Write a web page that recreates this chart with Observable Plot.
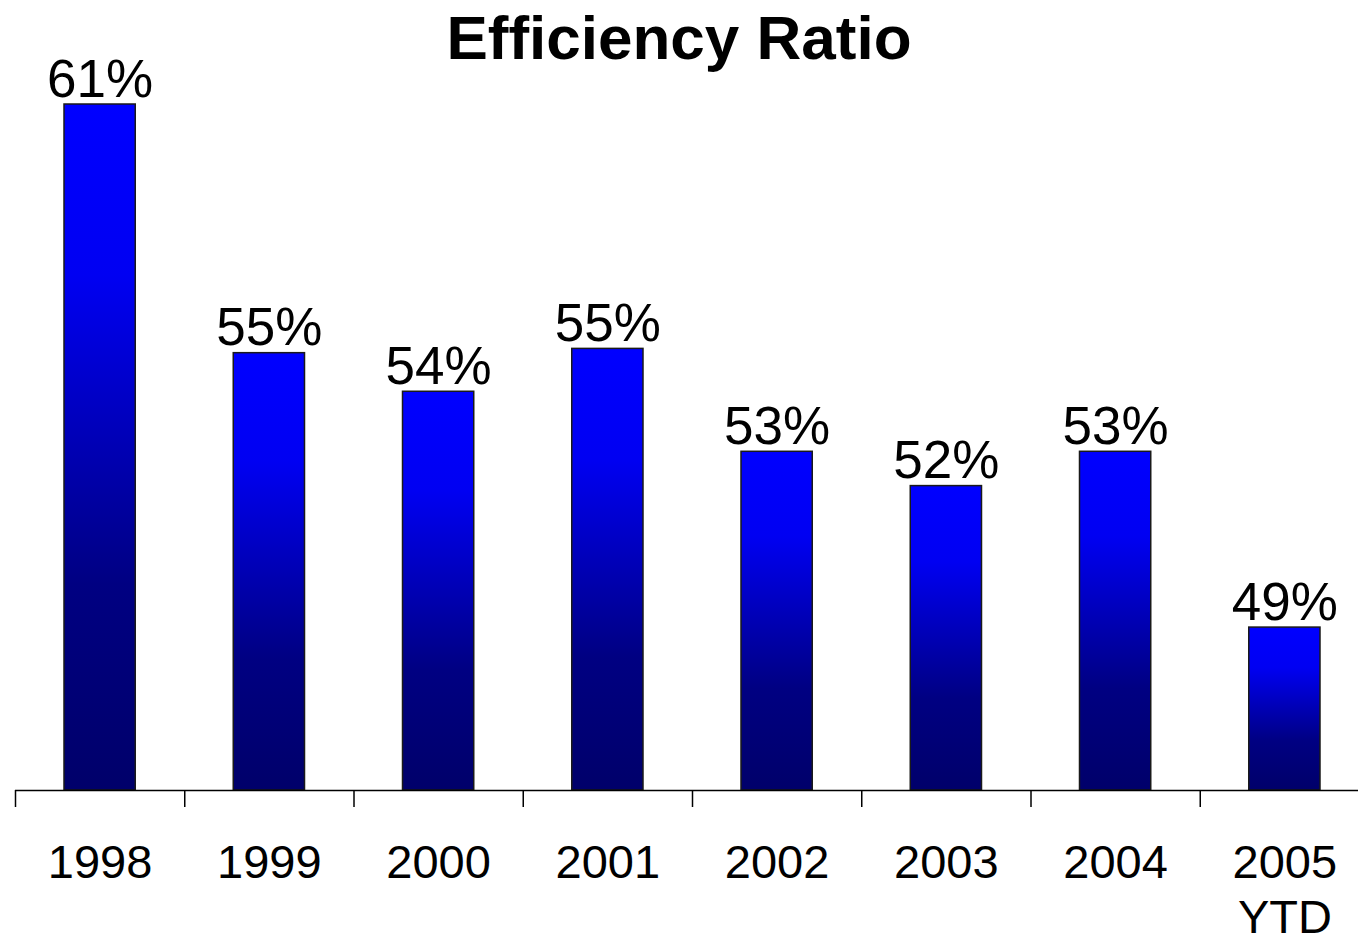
<!DOCTYPE html>
<html>
<head>
<meta charset="utf-8">
<script src="https://cdn.jsdelivr.net/npm/d3@7"></script>
<script src="https://cdn.jsdelivr.net/npm/@observablehq/plot@0.6"></script>
<style>
  html, body { margin: 0; padding: 0; background: #fff; overflow: hidden; }
  #wrap { position: relative; width: 1358px; height: 942px; }
  #title { position: absolute; top: 7px; left: 0; width: 1358px; text-align: center;
    font-family: "Liberation Sans", Arial, sans-serif; font-weight: bold; font-size: 62px; line-height: 62px; color: #000; }
</style>
</head>
<body>
<div id="wrap">
  <div id="title">Efficiency Ratio</div>
  <div id="chart"></div>
</div>
<script>
const categories = ["1998", "1999", "2000", "2001", "2002", "2003", "2004", "2005\nYTD"];
const values = [61.0, 55.2, 54.3, 55.3, 52.9, 52.1, 52.9, 48.8];
const valueLabels = ["61%", "55%", "54%", "55%", "53%", "52%", "53%", "49%"];

const data = categories.map((c, i) => ({cat: c, i, value: values[i], label: valueLabels[i]}));
const boundaries = d3.range(categories.length + 1);

const font = '"Liberation Sans", Arial, sans-serif';

const svg = Plot.plot({
  width: 1358,
  height: 942,
  marginLeft: 15,
  marginRight: 0,
  marginTop: 104,
  marginBottom: 152,
  style: {fontFamily: font, background: "white", overflow: "visible"},
  x: {type: "linear", domain: [0, categories.length], range: [15, 1369], axis: null},
  y: {domain: [45, 61], range: [790, 104], axis: null},
  marks: [
    Plot.rectY(data, {x1: "i", x2: d => d.i + 1, y1: 45, y2: "value", insetLeft: 49, insetRight: 49,
      fill: "url(#barGrad)", stroke: "#1a1a1a", strokeWidth: 1.5}),
    Plot.ruleY([45], {stroke: "#000", strokeWidth: 1.5}),
    Plot.tickX(boundaries, {x: d => d, y: null, frameAnchor: "bottom"}),
    Plot.text(data, {x: d => d.i + 0.5, y: "value", text: "label", lineAnchor: "bottom", dy: -8,
      fontSize: 53, fill: "#000"}),
    Plot.text(data, {x: d => d.i + 0.5, frameAnchor: "bottom", text: "cat", lineAnchor: "top", dy: 48,
      fontSize: 47, lineHeight: 1.17, fill: "#000"})
  ]
});

const ns = "http://www.w3.org/2000/svg";
// make the boundary ticks short, hanging below the axis line
svg.querySelectorAll("g[aria-label='tick'] line").forEach(l => {
  l.setAttribute("y1", 790);
  l.setAttribute("y2", 807);
  l.setAttribute("stroke", "#000");
  l.setAttribute("stroke-width", "1.5");
});

const defs = document.createElementNS(ns, "defs");
const grad = document.createElementNS(ns, "linearGradient");
grad.setAttribute("id", "barGrad");
grad.setAttribute("x1", "0"); grad.setAttribute("y1", "0");
grad.setAttribute("x2", "0"); grad.setAttribute("y2", "1");
[["0", "#0000ff"], ["0.25", "#0000f2"], ["0.7", "#000082"], ["1", "#00006a"]].forEach(([o, c]) => {
  const s = document.createElementNS(ns, "stop");
  s.setAttribute("offset", o);
  s.setAttribute("stop-color", c);
  grad.appendChild(s);
});
defs.appendChild(grad);
svg.insertBefore(defs, svg.firstChild);

document.getElementById("chart").appendChild(svg);
</script>
</body>
</html>
